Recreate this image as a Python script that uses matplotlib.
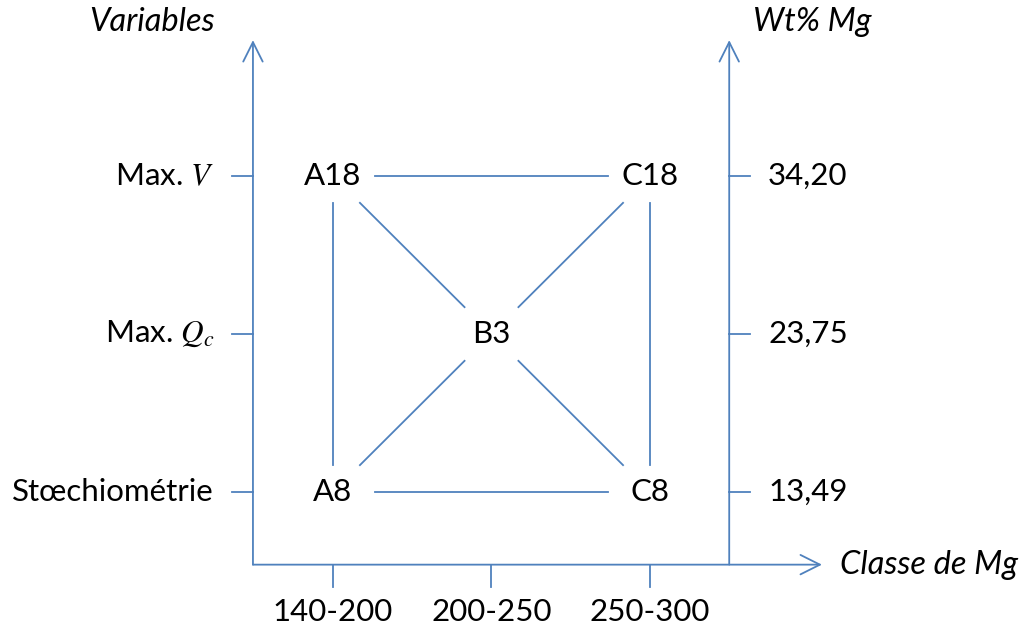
import matplotlib.pyplot as plt

plt.rcParams['font.family'] = ['Lato', 'DejaVu Sans']
plt.rcParams['mathtext.fontset'] = 'stix'

# data
classes = ['140-200', '200-250', '250-300']            # x categories (Classe de Mg)
variables = ['Stœchiométrie', r'Max. $Q_c$', r'Max. $V$']  # left y labels
wt_mg = ['13,49', '23,75', '34,20']                    # right y labels
nodes = {'A8': (0, 0), 'C8': (2, 0), 'B3': (1, 1), 'A18': (0, 2), 'C18': (2, 2)}
edges = [('A18', 'C18'), ('A8', 'C8'), ('A18', 'A8'), ('C18', 'C8'),
         ('A18', 'B3'), ('B3', 'C18'), ('A8', 'B3'), ('B3', 'C8')]

BLUE = '#4F81BD'
LW = 1.3
FS = 22.5
FS_IT = 23.5

fig = plt.figure(figsize=(10.21, 6.31), dpi=100)
ax = fig.add_axes([0, 0, 1, 1])
ax.set_xlim(-2.101, 4.341)
ax.set_ylim(-0.880, 3.114)
ax.axis('off')

x_left, x_right, y_bot = -0.505, 2.5, -0.46
arrow = dict(arrowstyle='->,head_length=0.7,head_width=0.35', color=BLUE, lw=LW,
             mutation_scale=20, shrinkA=0, shrinkB=0)

# axes with arrows
ax.annotate('', xy=(x_left, 2.86), xytext=(x_left, y_bot), arrowprops=arrow)
ax.annotate('', xy=(x_right, 2.86), xytext=(x_right, y_bot), arrowprops=arrow)
ax.annotate('', xy=(3.085, y_bot), xytext=(x_left, y_bot), arrowprops=arrow)

# ticks and tick labels
for i, lab in enumerate(variables):
    ax.plot([x_left - 0.132, x_left], [i, i], color=BLUE, lw=LW)
    ax.text(-0.75, i, lab, ha='right', va='center', fontsize=FS)
for i, lab in enumerate(wt_mg):
    ax.plot([x_right, x_right + 0.132], [i, i], color=BLUE, lw=LW)
    ax.text(2.745, i, lab, ha='left', va='center', fontsize=FS)
for i, lab in enumerate(classes):
    ax.plot([i, i], [y_bot, y_bot - 0.14], color=BLUE, lw=LW)
    ax.text(i, -0.76, lab, ha='center', va='center', fontsize=FS)

ax.text(-1.142, 2.975, 'Variables', ha='center', va='center', fontsize=FS_IT, style='italic')
ax.text(3.022, 2.975, 'Wt% Mg', ha='center', va='center', fontsize=FS_IT, style='italic')
ax.text(3.2, y_bot, 'Classe de Mg', ha='left', va='center', fontsize=FS_IT, style='italic')

# nodes
for name, (x, y) in nodes.items():
    ax.text(x, y, name, ha='center', va='center', fontsize=FS)

# edges, clipped to a box around each node label
hw, hh = 0.265, 0.17
for a, b in edges:
    (x0, y0), (x1, y1) = nodes[a], nodes[b]
    dx, dy = x1 - x0, y1 - y0
    ts = []
    if dx:
        ts.append(hw / abs(dx))
    if dy:
        ts.append(hh / abs(dy))
    t = min(ts)
    ax.plot([x0 + dx * t, x1 - dx * t], [y0 + dy * t, y1 - dy * t], color=BLUE, lw=LW)

fig.savefig('out.png', dpi=100)
